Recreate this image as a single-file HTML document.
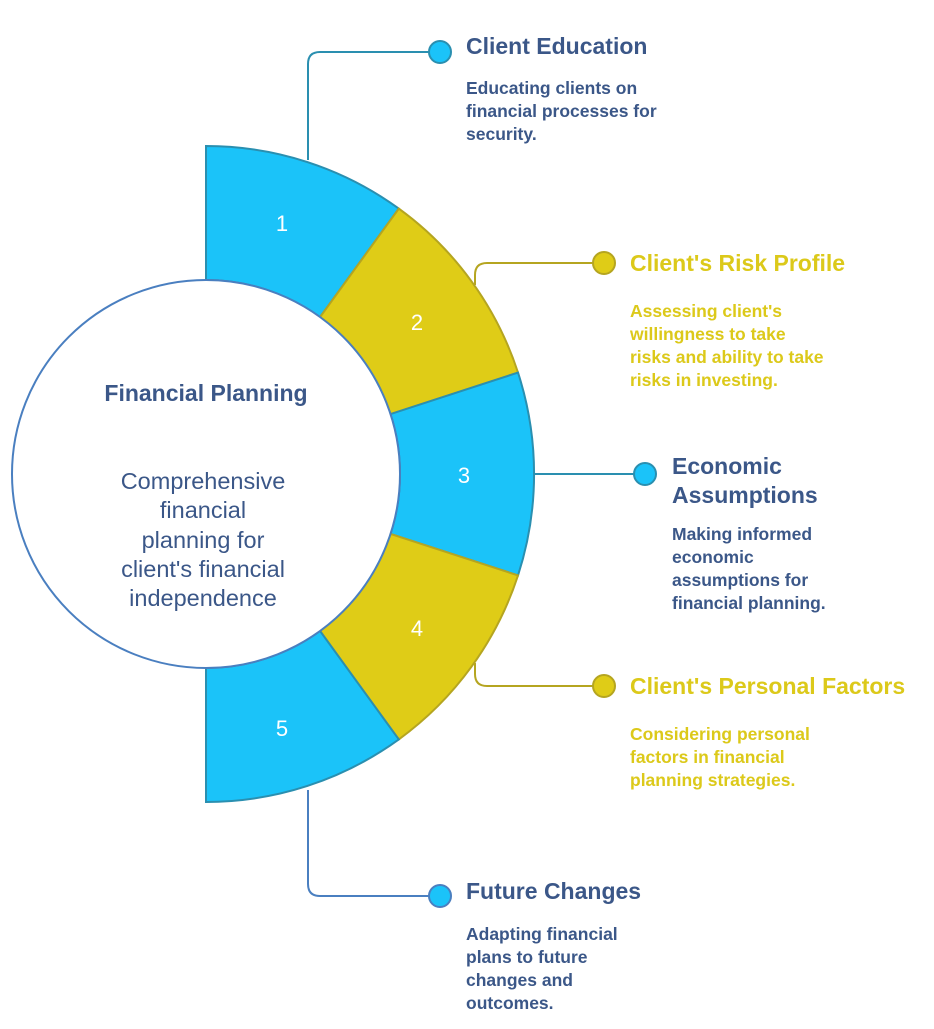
<!DOCTYPE html>
<html><head><meta charset="utf-8"><style>
body{margin:0;background:#fff;width:934px;height:1024px;overflow:hidden;font-family:"Liberation Sans",Arial,sans-serif}
</style></head><body>
<svg width="934" height="1024" viewBox="0 0 934 1024" xmlns="http://www.w3.org/2000/svg" font-family="Liberation Sans, Arial, sans-serif">
<g fill="none" stroke-width="2">
<path d="M308 160 V64 Q308 52 320 52 H430" stroke="#2a8fb0"/>
<path d="M475 285 V275 Q475 263 487 263 H594" stroke="#b5a520"/>
<path d="M534 474 H635" stroke="#2a8fb0"/>
<path d="M475 663 V674 Q475 686 487 686 H594" stroke="#b5a520"/>
<path d="M308 790 V884 Q308 896 320 896 H430" stroke="#4a7fc0"/>
</g>
<g stroke-width="2">
<circle cx="440" cy="52" r="11" fill="#1bc3f9" stroke="#2a8fb0"/>
<circle cx="604" cy="263" r="11" fill="#dfcc17" stroke="#b5a520"/>
<circle cx="645" cy="474" r="11" fill="#1bc3f9" stroke="#2a8fb0"/>
<circle cx="604" cy="686" r="11" fill="#dfcc17" stroke="#b5a520"/>
<circle cx="440" cy="896" r="11" fill="#1bc3f9" stroke="#4a7fc0"/>
</g>
<g stroke-width="2">
<path d="M206 146 A328 328 0 0 1 398.8 208.6 L320 317.1 A194 194 0 0 0 206 280 Z" fill="#1bc3f9" stroke="#2a8fb0"/>
<path d="M398.8 208.6 A328 328 0 0 1 518 372.6 L390.5 414.1 A194 194 0 0 0 320 317.1 Z" fill="#dfcc17" stroke="#b5a520"/>
<path d="M518 372.6 A328 328 0 0 1 518 575.4 L390.5 533.9 A194 194 0 0 0 390.5 414.1 Z" fill="#1bc3f9" stroke="#2a8fb0"/>
<path d="M518 575.4 A328 328 0 0 1 398.8 739.4 L320 630.9 A194 194 0 0 0 390.5 533.9 Z" fill="#dfcc17" stroke="#b5a520"/>
<path d="M398.8 739.4 A328 328 0 0 1 206 802 L206 668 A194 194 0 0 0 320 630.9 Z" fill="#1bc3f9" stroke="#2a8fb0"/>
</g>
<circle cx="206" cy="474" r="194" fill="#fff" stroke="#4a7fc0" stroke-width="2"/>
<g fill="#fff" font-size="22" text-anchor="middle">
<text x="282" y="231">1</text><text x="417" y="330">2</text><text x="464" y="483">3</text><text x="417" y="636">4</text><text x="282" y="736">5</text>
</g>
<text x="206" y="401" text-anchor="middle" font-size="23" font-weight="bold" fill="#3b5788">Financial Planning</text>
<g font-size="23.5" fill="#3b5788" text-anchor="middle">
<text x="203" y="489">Comprehensive</text><text x="203" y="518">financial</text><text x="203" y="548">planning for</text><text x="203" y="577">client's financial</text><text x="203" y="606">independence</text>
</g>
<g font-weight="bold">
<g fill="#3b5788">
<text x="466" y="54" font-size="23">Client Education</text>
<g font-size="17.5"><text x="466" y="94">Educating clients on</text><text x="466" y="117">financial processes for</text><text x="466" y="140">security.</text></g>
<text x="672" y="474" font-size="23">Economic</text><text x="672" y="503" font-size="23">Assumptions</text>
<g font-size="17.5"><text x="672" y="540">Making informed</text><text x="672" y="563">economic</text><text x="672" y="586">assumptions for</text><text x="672" y="609">financial planning.</text></g>
<text x="466" y="899" font-size="23">Future Changes</text>
<g font-size="17.5"><text x="466" y="940">Adapting financial</text><text x="466" y="963">plans to future</text><text x="466" y="986">changes and</text><text x="466" y="1009">outcomes.</text></g>
</g>
<g fill="#dcc91a">
<text x="630" y="271" font-size="23">Client's Risk Profile</text>
<g font-size="17.5"><text x="630" y="317">Assessing client's</text><text x="630" y="340">willingness to take</text><text x="630" y="363">risks and ability to take</text><text x="630" y="386">risks in investing.</text></g>
<text x="630" y="694" font-size="23">Client's Personal Factors</text>
<g font-size="17.5"><text x="630" y="740">Considering personal</text><text x="630" y="763">factors in financial</text><text x="630" y="786">planning strategies.</text></g>
</g>
</g>
</svg>
</body></html>
